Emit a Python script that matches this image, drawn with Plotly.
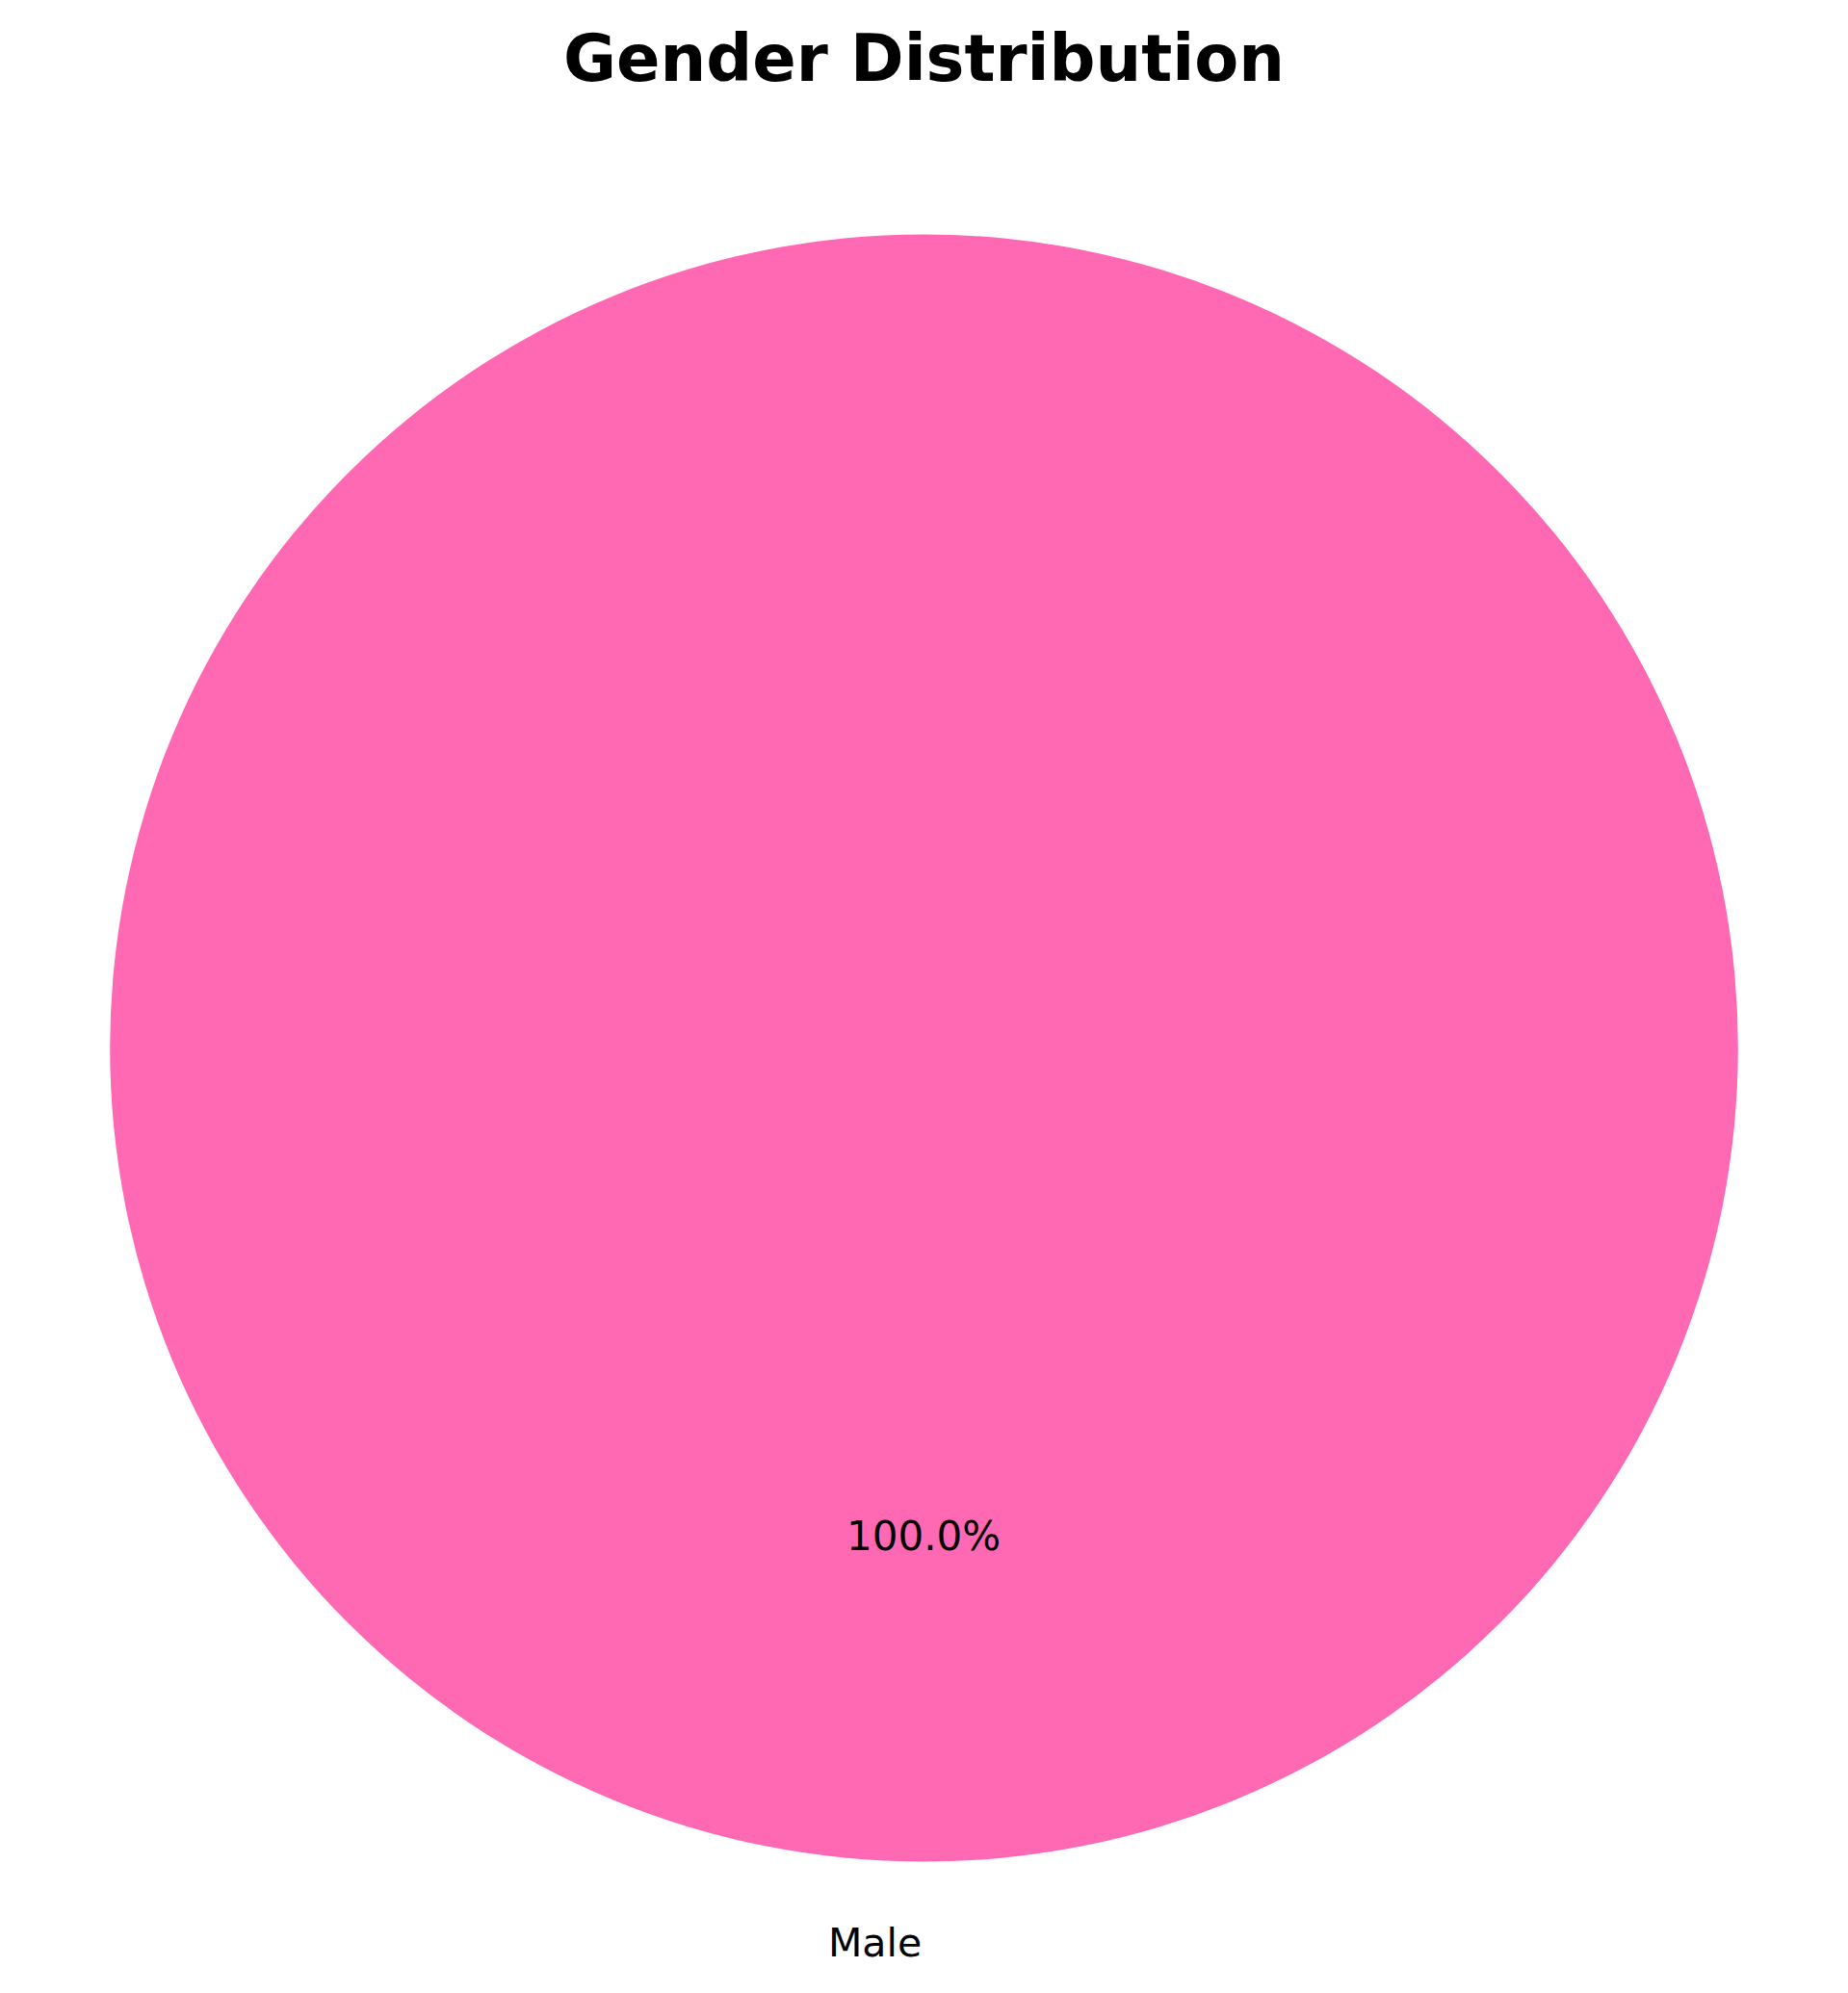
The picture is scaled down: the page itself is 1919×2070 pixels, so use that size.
import math
import plotly.graph_objects as go

# Data
genders = ["Male"]
counts = [100]
colors = ["#FF69B4"]

W, H = 1919, 2070
# pie geometry (pixels)
cx, cy, r = 959.5, 1088.5, 845.0

fig = go.Figure()
fig.add_trace(go.Pie(
    labels=genders,
    values=counts,
    marker=dict(colors=colors, line=dict(width=0)),
    textinfo="none",
    sort=False,
    direction="counterclockwise",
    rotation=0,
    showlegend=False,
    domain=dict(x=[(cx - r) / W, (cx + r) / W],
                y=[1 - (cy + r) / H, 1 - (cy - r) / H]),
))

# Labels and percentages placed like matplotlib (startangle=90, counterclockwise)
total = sum(counts)
theta1 = 90.0 / 360.0
annotations = []
for lab, val in zip(genders, counts):
    frac = val / total
    theta2 = theta1 + frac
    thetam = 2 * math.pi * 0.5 * (theta1 + theta2)
    theta1 = theta2
    c, s = math.cos(thetam), math.sin(thetam)
    lx = cx + 1.1 * r * c
    ly = cy - 1.1 * r * s
    annotations.append(dict(
        x=lx / W, y=1 - ly / H, xref="paper", yref="paper",
        text=lab, showarrow=False,
        xanchor="left" if c > 0 else "right", yanchor="middle",
        font=dict(family="DejaVu Sans", size=41, color="black"),
    ))
    px = cx + 0.6 * r * c
    py = cy - 0.6 * r * s
    annotations.append(dict(
        x=px / W, y=1 - py / H, xref="paper", yref="paper",
        text=f"{frac * 100:.1f}%", showarrow=False,
        xanchor="center", yanchor="middle",
        font=dict(family="DejaVu Sans", size=42, color="black"),
    ))

fig.update_layout(
    width=W, height=H,
    margin=dict(l=0, r=0, t=0, b=0),
    paper_bgcolor="white",
    plot_bgcolor="white",
    title=dict(
        text="<b>Gender Distribution</b>",
        x=0.5, xanchor="center",
        y=1 - 61 / H, yanchor="middle",
        font=dict(family="DejaVu Sans", size=67, color="black"),
    ),
    annotations=annotations,
)

fig.write_html("out.html", config={"displayModeBar": False},
               post_script="document.body.style.margin='0';")
